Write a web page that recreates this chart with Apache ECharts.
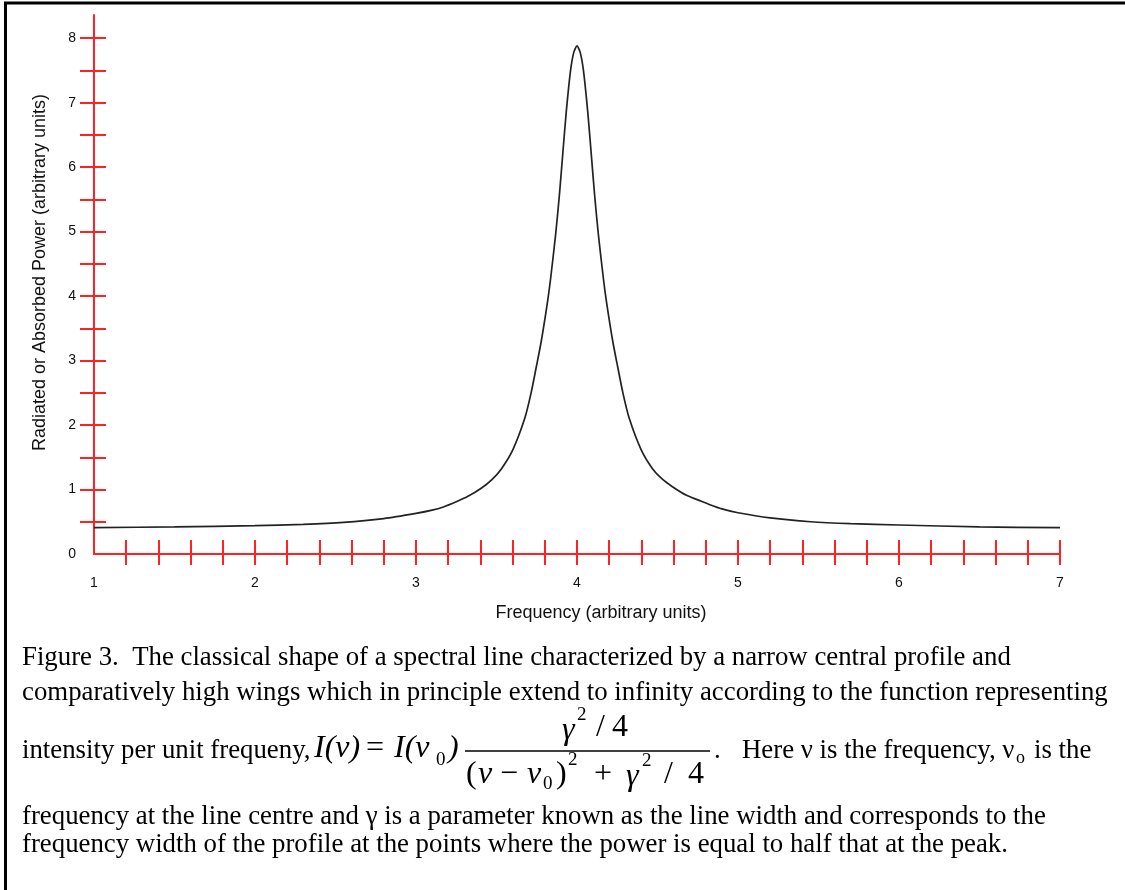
<!DOCTYPE html>
<html>
<head>
<meta charset="utf-8">
<script src="https://cdn.jsdelivr.net/npm/echarts@6/dist/echarts.min.js"></script>
<style>
html,body{margin:0;padding:0;background:#fff;}
#chart{width:1125px;height:890px;}
</style>
</head>
<body>
<div id="chart"></div>
<script>
// Frequency (arbitrary units) and radiated/absorbed power
const freq = [1.0, 1.5, 2.0, 2.3, 2.55, 2.8, 3.0, 3.1, 3.17, 3.25, 3.32, 3.405, 3.47, 3.53, 3.602, 3.675, 3.715, 3.747, 3.778, 3.815, 3.835, 3.867, 3.89, 3.913, 3.933, 3.96, 3.98, 4.0, 4.02, 4.04, 4.067, 4.087, 4.11, 4.133, 4.165, 4.185, 4.222, 4.253, 4.285, 4.325, 4.398, 4.47, 4.53, 4.595, 4.68, 4.75, 4.83, 4.9, 5.0, 5.2, 5.45, 5.7, 6.0, 6.5, 7.0];
const power = [0.41, 0.42, 0.44, 0.46, 0.49, 0.55, 0.63, 0.68, 0.73, 0.81, 0.89, 1.02, 1.15, 1.32, 1.62, 2.10, 2.50, 2.90, 3.30, 3.88, 4.25, 4.95, 5.55, 6.25, 6.85, 7.50, 7.78, 7.88, 7.78, 7.50, 6.85, 6.25, 5.55, 4.95, 4.25, 3.88, 3.30, 2.90, 2.50, 2.10, 1.62, 1.32, 1.16, 1.04, 0.91, 0.84, 0.76, 0.70, 0.64, 0.56, 0.50, 0.47, 0.45, 0.42, 0.41];

const xLabelValues = [1, 2, 3, 4, 5, 6, 7];
const xTickValues = [1.2, 1.4, 1.6, 1.8, 2.0, 2.2, 2.4, 2.6, 2.8, 3.0, 3.2, 3.4, 3.6, 3.8, 4.0, 4.2, 4.4, 4.6, 4.8, 5.0, 5.2, 5.4, 5.6, 5.8, 6.0, 6.2, 6.4, 6.6, 6.8, 7.0];
const yLabelValues = [0, 1, 2, 3, 4, 5, 6, 7, 8];
const yTickValues = [0.5, 1, 1.5, 2, 2.5, 3, 3.5, 4, 4.5, 5, 5.5, 6, 6.5, 7, 7.5, 8];

const xName = 'Frequency (arbitrary units)';
const yName = 'Radiated or Absorbed Power (arbitrary units)';

const RED = '#ff2222';
const SANS = 'Liberation Sans, Arial, sans-serif';
const SERIF = 'Liberation Serif, Times New Roman, serif';
const CAP = '26.8px ' + SERIF;
const EQ = '32px ' + SERIF;
const EQI = 'italic 32px ' + SERIF;
const SUB = '19px ' + SERIF;

const chart = echarts.init(document.getElementById('chart'), null, {renderer: 'canvas'});

const baseAxisX = {
  type: 'value', min: 1, max: 7, position: 'bottom',
  splitLine: {show: false}
};
const baseAxisY = {
  type: 'value', min: 0, max: 8.36, position: 'left',
  splitLine: {show: false}
};

const capText = (text, x, y, font) => ({
  type: 'text', x: x, y: y, silent: true,
  style: {text: text, font: font || CAP, fill: '#000', verticalAlign: 'middle', align: 'left'}
});

chart.setOption({
  animation: false,
  backgroundColor: '#fff',
  grid: {left: 94, right: 65, top: 15, bottom: 336, containLabel: false, outerBoundsMode: 'none'},
  xAxis: [
    Object.assign({}, baseAxisX, {
      name: xName, nameLocation: 'middle', nameGap: 50,
      nameTextStyle: {fontFamily: SANS, fontSize: 18, color: '#111', padding: [0, 0, 0, 48]},
      axisLine: {show: true, lineStyle: {color: RED, width: 2}},
      axisTick: {show: true, inside: false, length: 11, customValues: xTickValues, lineStyle: {color: RED, width: 2}},
      axisLabel: {show: true, customValues: xLabelValues, margin: 22, fontFamily: SANS, fontSize: 14, color: '#111'}
    }),
    Object.assign({}, baseAxisX, {
      axisLine: {show: false},
      axisTick: {show: true, inside: true, length: 14, customValues: xTickValues, lineStyle: {color: RED, width: 2}},
      axisLabel: {show: false}
    })
  ],
  yAxis: [
    Object.assign({}, baseAxisY, {
      name: yName, nameLocation: 'middle', nameGap: 45,
      nameTextStyle: {fontFamily: SANS, fontSize: 18, color: '#111', padding: [0, 0, 0, 24]},
      axisLine: {show: true, lineStyle: {color: RED, width: 2}},
      axisTick: {show: true, inside: false, length: 14, customValues: yTickValues, lineStyle: {color: RED, width: 2}},
      axisLabel: {show: true, customValues: yLabelValues, margin: 18, fontFamily: SANS, fontSize: 14, color: '#111', padding: [5, 0, 0, 0]}
    }),
    Object.assign({}, baseAxisY, {
      axisLine: {show: false},
      axisTick: {show: true, inside: true, length: 12, customValues: yTickValues, lineStyle: {color: RED, width: 2}},
      axisLabel: {show: false}
    })
  ],
  series: [{
    type: 'line',
    xAxisIndex: 0, yAxisIndex: 0,
    data: freq.map((f, i) => [f, power[i]]),
    showSymbol: false,
    smooth: 0.25,
    lineStyle: {color: '#222', width: 1.7},
    z: 5
  }],
  graphic: [
    {type: 'line', silent: true, shape: {x1: 4, y1: 3, x2: 1125, y2: 3}, style: {stroke: '#000', lineWidth: 3}},
    {type: 'line', silent: true, shape: {x1: 5.5, y1: 2, x2: 5.5, y2: 890}, style: {stroke: '#000', lineWidth: 3}},
    capText('Figure 3.  The classical shape of a spectral line characterized by a narrow central profile and', 22, 658),
    capText('comparatively high wings which in principle extend to infinity according to the function representing', 22, 693),
    capText('intensity per unit frequeny,', 22, 751),
    capText('I(ν)', 314, 749, EQI),
    capText('=', 366, 749, EQ),
    capText('I(ν', 394, 749, EQI),
    capText('0', 436, 760, SUB),
    capText(')', 448, 749, EQI),
    capText('γ', 562, 731, EQI),
    capText('2', 577, 715, SUB),
    capText('/', 596, 728, EQ),
    capText('4', 612, 728, EQ),
    {type: 'line', silent: true, shape: {x1: 465, y1: 751, x2: 710, y2: 751}, style: {stroke: '#000', lineWidth: 1.3}},
    capText('(', 466, 775, EQ),
    capText('ν', 478, 775, EQI),
    capText('−', 500, 775, EQ),
    capText('ν', 527, 775, EQI),
    capText('0', 543, 784, SUB),
    capText(')', 556, 775, EQ),
    capText('2', 568, 760, SUB),
    capText('+', 594, 775, EQ),
    capText('γ', 626, 777, EQI),
    capText('2', 642, 761, SUB),
    capText('/', 664, 775, EQ),
    capText('4', 688, 775, EQ),
    capText('.', 714, 751),
    capText('Here ν is the frequency, ν', 742, 751),
    capText('o', 1016, 758, '18px ' + SERIF),
    capText('is the', 1034, 751),
    capText('frequency at the line centre and γ is a parameter known as the line width and corresponds to the', 22, 817),
    capText('frequency width of the profile at the points where the power is equal to half that at the peak.', 22, 845)
  ]
});
</script>
</body>
</html>
